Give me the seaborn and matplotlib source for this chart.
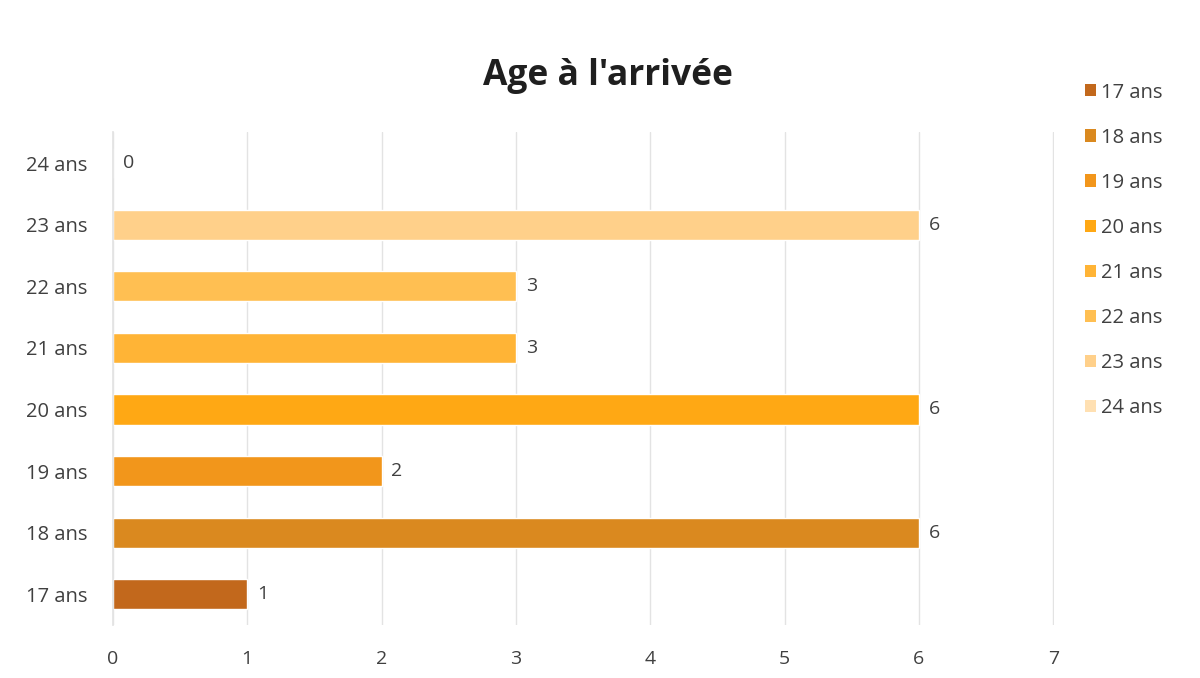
import matplotlib
matplotlib.use("Agg")
import matplotlib.pyplot as plt
from matplotlib.patches import Patch
import seaborn as sns
import pandas as pd

# Number of people per age at arrival
ages = ["17 ans", "18 ans", "19 ans", "20 ans", "21 ans", "22 ans", "23 ans", "24 ans"]
counts = [1, 6, 2, 6, 3, 3, 6, 0]
colors = ["#C2681C", "#DA891F", "#F2961B", "#FFA814", "#FFB436",
          "#FFBF52", "#FFD08A", "#FFE0B2"]
x_ticks = [0, 1, 2, 3, 4, 5, 6, 7]

sns.set_theme(style="white")
plt.rcParams["font.family"] = ["Open Sans", "DejaVu Sans"]

df = pd.DataFrame({"age": ages, "count": counts})
# top-to-bottom order: 24 ans at the top, 17 ans at the bottom
order = ages[::-1]
palette = dict(zip(ages, colors))

fig = plt.figure(figsize=(12, 6.78), dpi=100)
ax = fig.add_axes([0.094, 0.078, 0.784, 0.727])

sns.barplot(data=df, y="age", x="count", hue="age", order=order,
            hue_order=ages, palette=palette, dodge=False, width=0.49,
            legend=False, saturation=1, ax=ax)

text_col = "#404040"
for container in ax.containers:
    ax.bar_label(container, fmt="%d", padding=7, fontsize=14, color=text_col)

ax.set_xlim(0, 7.002)
ax.set_ylim(7.5, -0.5)
ax.set_xticks(x_ticks)
ax.set_xticklabels([str(t) for t in x_ticks], fontsize=14, color=text_col)
ax.tick_params(axis="y", labelsize=14.5, labelcolor=text_col, length=0, pad=18)
ax.tick_params(axis="x", length=0, pad=18)
ax.set_xlabel("")
ax.set_ylabel("")

ax.grid(axis="x", color="#E3E3E3", linewidth=1)
ax.set_axisbelow(True)
for side in ["top", "right", "bottom"]:
    ax.spines[side].set_visible(False)
ax.spines["left"].set_color("#E3E3E3")

fig.text(0.507, 0.888, "Age à l'arrivée", ha="center", va="center",
         fontsize=25.5, fontweight="bold", color="#1F1F1F")

handles = [Patch(facecolor=palette[a], edgecolor="none", label=a) for a in ages]
leg = fig.legend(handles=handles, loc="upper left", bbox_to_anchor=(0.889, 0.905),
                 frameon=False, fontsize=14.5, handlelength=0.55, handleheight=0.55,
                 handletextpad=0.25, labelspacing=1.245)
for t in leg.get_texts():
    t.set_color(text_col)

fig.savefig("out.png", dpi=100)
